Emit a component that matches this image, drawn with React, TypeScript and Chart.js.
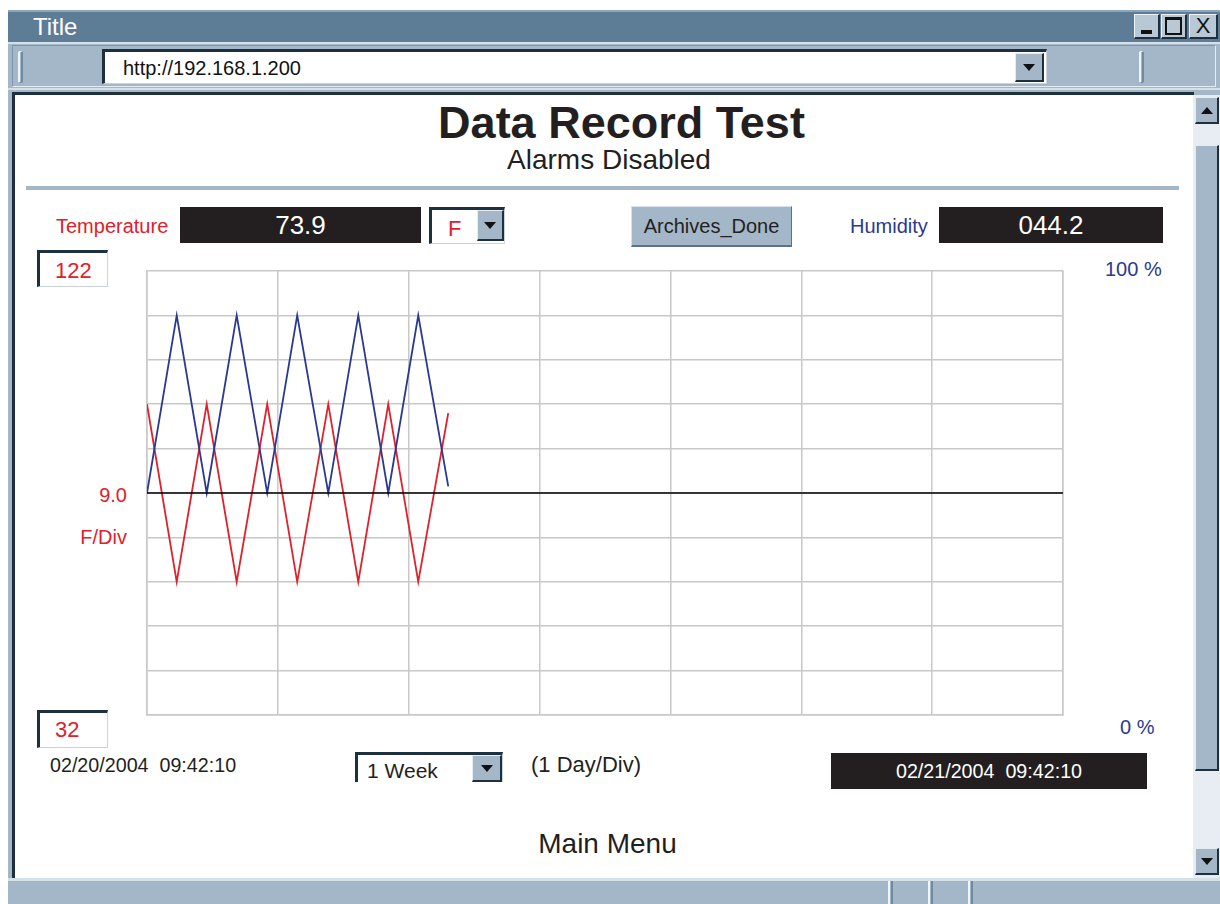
import React, { useEffect, useRef } from "react";
import { Chart, registerables } from "chart.js";

Chart.register(...registerables);

// ---- data ----
const hours = [0, 5.45, 10.95, 16.45, 22.05, 27.55, 33.25, 38.75, 44.25, 49.75, 55.25];
const humidity = [50, 90, 50, 90, 50, 90, 50, 90, 50, 90, 51.5];
const temperature = [95, 59, 95, 59, 95, 59, 95, 59, 95, 59, 93.2];
const refHours = [0, 168];
const refTemp = [77, 77];
const tempMin = 32;
const tempMax = 122;
const tempStep = 9;
const humMin = 0;
const humMax = 100;
const dayHours = 24;
const weekHours = 168;

const SANS = '"Liberation Sans", Arial, Helvetica, sans-serif';
const NARROW = '"Liberation Sans Narrow", "Arial Narrow", "Liberation Sans", sans-serif';
const STEEL = "#a3b7c9";
const DARK = "#1e2f3e";
const RED = "#e0202a";
const BLUE = "#2b3990";

type BP = { x: number; y: number; w: number; h: number; style?: React.CSSProperties; children?: React.ReactNode };
const Abs = ({ x, y, w, h, style, children }: BP) => (
  <div style={{ position: "absolute", left: x, top: y, width: w, height: h, boxSizing: "border-box", ...style }}>{children}</div>
);

const Arrow = ({ up }: { up?: boolean }) => (
  <div
    style={{
      width: 0,
      height: 0,
      borderLeft: "6px solid transparent",
      borderRight: "6px solid transparent",
      [up ? "borderBottom" : "borderTop"]: "7px solid #111",
    } as React.CSSProperties}
  />
);

const DropBtn = ({ x, y, w, h, up }: { x: number; y: number; w: number; h: number; up?: boolean }) => (
  <Abs
    x={x}
    y={y}
    w={w}
    h={h}
    style={{
      background: STEEL,
      borderTop: "1px solid #e4ebf1",
      borderLeft: "1px solid #e4ebf1",
      borderRight: `2px solid ${DARK}`,
      borderBottom: `2px solid ${DARK}`,
      display: "flex",
      alignItems: "center",
      justifyContent: "center",
    }}
  >
    <Arrow up={up} />
  </Abs>
);

const Sunken = ({ x, y, w, h, children, style }: BP) => (
  <Abs
    x={x}
    y={y}
    w={w}
    h={h}
    style={{
      background: "#fff",
      borderTop: `3px solid ${DARK}`,
      borderLeft: `3px solid ${DARK}`,
      borderRight: "1px solid #c9d4dd",
      borderBottom: "1px solid #c9d4dd",
      ...style,
    }}
  >
    {children}
  </Abs>
);

const Txt = ({ x, y, size, color, children, style }: { x: number; y: number; size: number; color: string; children: React.ReactNode; style?: React.CSSProperties }) => (
  <div style={{ position: "absolute", left: x, top: y, fontSize: size, color, fontFamily: SANS, lineHeight: 1, whiteSpace: "pre", ...style }}>{children}</div>
);

const BlackBox = ({ x, y, w, h, size, children }: { x: number; y: number; w: number; h: number; size: number; children: React.ReactNode }) => (
  <Abs x={x} y={y} w={w} h={h} style={{ background: "#231f20", color: "#fff", fontFamily: SANS, fontSize: size, display: "flex", alignItems: "center", justifyContent: "center", whiteSpace: "pre" }}>
    {children}
  </Abs>
);

const Grip = ({ x, y, h }: { x: number; y: number; h: number }) => (
  <Abs x={x} y={y} w={5} h={h} style={{ borderLeft: "2px solid #f0f4f7", borderRight: "2px solid #6f8aa1", borderTop: "1px solid #f0f4f7", borderBottom: "1px solid #6f8aa1", borderRadius: 2 }} />
);

function TrendChart() {
  const ref = useRef<HTMLCanvasElement>(null);
  useEffect(() => {
    if (!ref.current) return;
    const chart = new Chart(ref.current, {
      type: "line",
      data: {
        datasets: [
          {
            label: "Reference",
            data: refHours.map((h, i) => ({ x: h, y: refTemp[i] })),
            borderColor: "#000",
            borderWidth: 1.5,
            pointRadius: 0,
            yAxisID: "y",
          },
          {
            label: "Humidity",
            data: hours.map((h, i) => ({ x: h, y: humidity[i] })),
            borderColor: BLUE,
            borderWidth: 1.8,
            pointRadius: 0,
            yAxisID: "y1",
          },
          {
            label: "Temperature",
            data: hours.map((h, i) => ({ x: h, y: temperature[i] })),
            borderColor: RED,
            borderWidth: 1.8,
            pointRadius: 0,
            yAxisID: "y",
          },
        ],
      },
      options: {
        animation: false,
        responsive: false,
        maintainAspectRatio: false,
        layout: { padding: { left: 2, right: 2, top: 2, bottom: 2 } },
        plugins: { legend: { display: false }, tooltip: { enabled: false } },
        scales: {
          x: {
            type: "linear",
            min: 0,
            max: weekHours,
            ticks: { display: false, stepSize: dayHours },
            grid: { color: "#c8c8c8", drawTicks: false, lineWidth: 1.5 },
            border: { color: "#c8c8c8", width: 1.5 },
          },
          y: {
            type: "linear",
            min: tempMin,
            max: tempMax,
            ticks: { display: false, stepSize: tempStep },
            grid: { color: "#c8c8c8", drawTicks: false, lineWidth: 1.5 },
            border: { color: "#c8c8c8", width: 1.5 },
          },
          y1: {
            type: "linear",
            position: "right",
            min: humMin,
            max: humMax,
            ticks: { display: false },
            grid: { display: false, drawTicks: false },
            border: { color: "#c8c8c8", width: 1.5 },
          },
        },
      },
    });
    return () => chart.destroy();
  }, []);
  return <canvas ref={ref} width={920} height={448} style={{ position: "absolute", left: 145, top: 269, width: 920, height: 448 }} />;
}

export default function App() {
  return (
    <div style={{ position: "fixed", left: 0, top: 0, width: 1220, height: 904, background: "#fff", overflow: "hidden", fontFamily: SANS }}>
      {/* window frame */}
      <Abs x={8} y={10} w={1212} h={894} style={{ background: STEEL }} />
      {/* title bar */}
      <Abs x={8} y={10} w={1212} h={32} style={{ background: "#5d7c95", borderTop: "2px solid #8ea6ba" }} />
      <Txt x={33} y={15} size={24} color="#fff" style={{ fontFamily: NARROW }}>Title</Txt>
      {[1134, 1161, 1189].map((bx, i) => (
        <Abs
          key={bx}
          x={bx}
          y={14}
          w={i === 2 ? 29 : 26}
          h={25}
          style={{ background: "#b9c8d5", borderTop: "1px solid #eef2f5", borderLeft: "1px solid #eef2f5", borderRight: `2px solid ${DARK}`, borderBottom: `2px solid ${DARK}`, display: "flex", alignItems: "center", justifyContent: "center" }}
        >
          {i === 0 && <div style={{ width: 11, height: 4, background: "#111", marginTop: 12 }} />}
          {i === 1 && <div style={{ width: 13, height: 13, border: "2px solid #111", borderTopWidth: 3 }} />}
          {i === 2 && <div style={{ fontFamily: NARROW, fontSize: 22, color: "#111", lineHeight: 1 }}>X</div>}
        </Abs>
      ))}
      {/* toolbar */}
      <Abs x={8} y={42} w={1212} h={48} style={{ background: STEEL, borderTop: "2px solid #d6e0e8", borderBottom: "2px solid #d6e0e8" }} />
      <Abs x={12} y={45} w={1204} h={42} style={{ border: "1px solid #7e97ac", borderRightColor: "#e4ebf1", borderBottomColor: "#e4ebf1" }} />
      <Grip x={18} y={51} h={32} />
      <Grip x={1139} y={51} h={32} />
      <Sunken x={102} y={49} w={945} h={35} style={{ borderTopWidth: 3, borderLeftWidth: 3 }}>
        <div style={{ position: "absolute", left: 18, top: 5, fontSize: 20, color: "#111", fontFamily: SANS }}>http://192.168.1.200</div>
      </Sunken>
      <DropBtn x={1015} y={53} w={29} h={29} />
      {/* content area */}
      <Abs x={12} y={92} w={1182} h={786} style={{ background: "#fff", borderTop: `3px solid ${DARK}`, borderLeft: `3px solid ${DARK}` }} />
      {/* scrollbar */}
      <Abs x={1193} y={95} w={27} h={783} style={{ background: "#e7edf2" }} />
      <DropBtn x={1195} y={97} w={24} h={27} up />
      <Abs x={1195} y={145} w={24} h={626} style={{ background: STEEL, borderTop: "1px solid #e4ebf1", borderLeft: "1px solid #e4ebf1", borderRight: `2px solid ${DARK}`, borderBottom: `2px solid ${DARK}` }} />
      <DropBtn x={1195} y={848} w={24} h={27} />
      {/* status bar */}
      <Abs x={8} y={878} w={1212} h={26} style={{ background: STEEL, borderTop: "3px solid #d6e0e8" }} />
      {[888, 928, 968].map((sx) => (
        <Abs key={sx} x={sx} y={881} w={5} h={23} style={{ borderLeft: "2px solid #f0f4f7", borderRight: "2px solid #6f8aa1" }} />
      ))}

      {/* headings */}
      <Txt x={0} y={100} size={45} color="#231f20" style={{ width: 1243, textAlign: "center", fontWeight: "bold" }}>Data Record Test</Txt>
      <Txt x={0} y={146} size={28} color="#231f20" style={{ width: 1218, textAlign: "center" }}>Alarms Disabled</Txt>
      <Abs x={26} y={186} w={1153} h={4} style={{ background: STEEL }} />

      {/* top controls */}
      <Txt x={56} y={216} size={20} color={RED}>Temperature</Txt>
      <BlackBox x={180} y={207} w={241} h={36} size={26}>73.9</BlackBox>
      <Sunken x={429} y={207} w={76} h={37}>
        <div style={{ position: "absolute", left: 16, top: 6, fontSize: 22, color: RED }}>F</div>
      </Sunken>
      <DropBtn x={477} y={210} w={27} h={31} />
      <Abs x={631} y={206} w={161} h={41} style={{ background: STEEL, border: "1px solid #d8e1e9", borderRightColor: "#5b7389", borderBottomColor: "#5b7389", borderBottomWidth: 2, display: "flex", alignItems: "center", justifyContent: "center", fontSize: 20, color: "#231f20" }}>
        Archives_Done
      </Abs>
      <Txt x={850} y={216} size={20} color={BLUE}>Humidity</Txt>
      <BlackBox x={939} y={207} w={224} h={36} size={26}>044.2</BlackBox>

      {/* axis labels */}
      <Sunken x={37} y={250} w={71} h={37}>
        <div style={{ position: "absolute", left: 15, top: 5, fontSize: 22, color: RED }}>122</div>
      </Sunken>
      <Txt x={1105} y={259} size={20} color={BLUE}>100 %</Txt>
      <Txt x={0} y={485} size={20} color={RED} style={{ width: 127, textAlign: "right" }}>9.0</Txt>
      <Txt x={0} y={527} size={20} color={RED} style={{ width: 127, textAlign: "right" }}>F/Div</Txt>
      <Sunken x={37} y={710} w={71} h={38}>
        <div style={{ position: "absolute", left: 15, top: 4, fontSize: 22, color: RED }}>32</div>
      </Sunken>
      <Txt x={1120} y={717} size={20} color={BLUE}>0 %</Txt>

      <TrendChart />

      {/* bottom controls */}
      <Txt x={50} y={756} size={19.7} color="#231f20">02/20/2004  09:42:10</Txt>
      <Sunken x={355} y={752} w={148} h={30} style={{ borderBottom: "none" }}>
        <div style={{ position: "absolute", left: 9, top: 4, fontSize: 21, color: "#231f20" }}>1 Week</div>
      </Sunken>
      <DropBtn x={472} y={755} w={30} h={27} />
      <Txt x={531} y={754} size={22} color="#231f20">(1 Day/Div)</Txt>
      <BlackBox x={831} y={753} w={316} h={36} size={19.7}>02/21/2004  09:42:10</BlackBox>
      <Txt x={0} y={830} size={28} color="#231f20" style={{ width: 1215, textAlign: "center" }}>Main Menu</Txt>
    </div>
  );
}
